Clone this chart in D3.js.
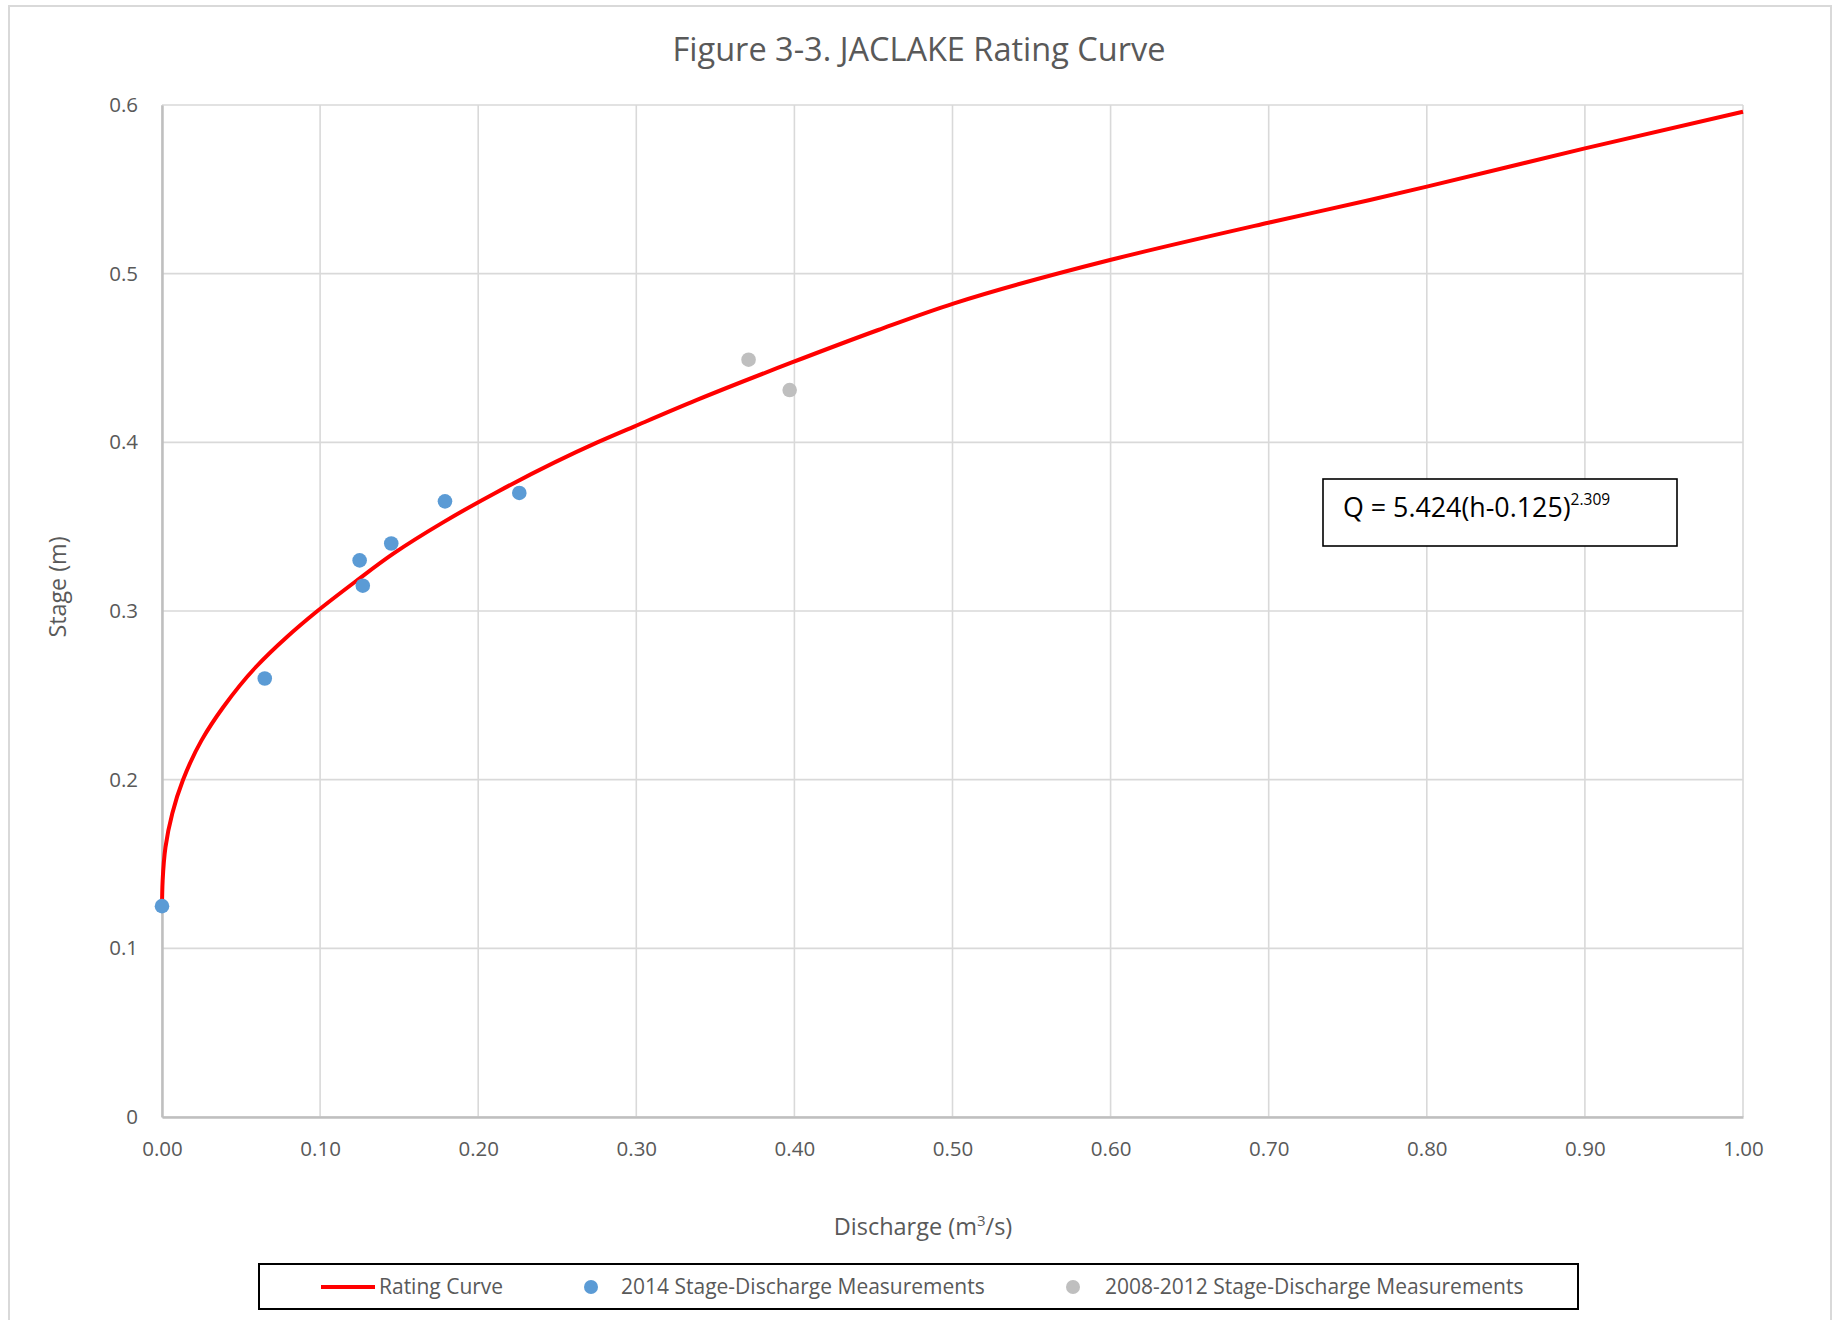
<!DOCTYPE html>
<html>
<head>
<meta charset="utf-8">
<script src="https://cdn.jsdelivr.net/npm/d3@7"></script>
<style>
  body { margin: 0; background: #fff; }
  text { font-family: "Open Sans", sans-serif; }
</style>
</head>
<body>
<div id="chart"></div>
<script>
const WIDTH = 1835;
const HEIGHT = 1320;
const MARGINS = { left: 162, right: 92, top: 105, bottom: 203 };
const VIS_WIDTH = WIDTH - MARGINS.left - MARGINS.right;
const VIS_HEIGHT = HEIGHT - MARGINS.top - MARGINS.bottom;

// rating curve (discharge m3/s, stage m)
const RATING_Q = [0, 0.0004, 0.0022, 0.0065, 0.0132, 0.025, 0.0388, 0.0594, 0.079, 0.0975,
  0.122, 0.1463, 0.1775, 0.212, 0.275, 0.299, 0.338, 0.398, 0.453, 0.501,
  0.5996, 0.6998, 0.764, 0.800, 0.900, 1.000];
const RATING_H = [0.125, 0.140, 0.160, 0.180, 0.1996, 0.2233, 0.2431, 0.2668, 0.2846, 0.2994,
  0.3172, 0.334, 0.3524, 0.3706, 0.3998, 0.4095, 0.425, 0.4472, 0.4666, 0.4824,
  0.5081, 0.5302, 0.5437, 0.5516, 0.5743, 0.596];

// 2014 measurements
const Q_2014 = [0, 0.065, 0.125, 0.127, 0.145, 0.179, 0.226];
const H_2014 = [0.125, 0.26, 0.33, 0.315, 0.34, 0.365, 0.37];

// 2008-2012 measurements
const Q_OLD = [0.371, 0.397];
const H_OLD = [0.449, 0.431];

const X_TICKS = [0, 0.1, 0.2, 0.3, 0.4, 0.5, 0.6, 0.7, 0.8, 0.9, 1.0];
const Y_TICKS = [0, 0.1, 0.2, 0.3, 0.4, 0.5, 0.6];

const LEGEND_LABELS = ["Rating Curve", "2014 Stage-Discharge Measurements", "2008-2012 Stage-Discharge Measurements"];

const TEXT_COLOR = "#595959";
const BLUE = "#5b9bd5";
const GRAY = "#bfbfbf";
const RED = "#ff0000";

const SVG = d3.select("#chart")
  .append("svg")
  .attr("width", WIDTH)
  .attr("height", HEIGHT);

// outer chart border
SVG.append("rect")
  .attr("x", 9)
  .attr("y", 6)
  .attr("width", 1822)
  .attr("height", HEIGHT)
  .attr("fill", "#fff")
  .attr("stroke", "#d9d9d9")
  .attr("stroke-width", 2);

const X_SCALE = d3.scaleLinear().domain([0, 1]).range([0, VIS_WIDTH]);
const Y_SCALE = d3.scaleLinear().domain([0, 0.6]).range([VIS_HEIGHT, 0]);

const PLOT = SVG.append("g")
  .attr("transform", `translate(${MARGINS.left},${MARGINS.top})`);

// gridlines
PLOT.selectAll(".vgrid")
  .data(X_TICKS)
  .enter()
  .append("line")
  .attr("x1", (d) => X_SCALE(d))
  .attr("x2", (d) => X_SCALE(d))
  .attr("y1", 0)
  .attr("y2", VIS_HEIGHT)
  .attr("stroke", "#d9d9d9")
  .attr("stroke-width", 1.6);

PLOT.selectAll(".hgrid")
  .data(Y_TICKS)
  .enter()
  .append("line")
  .attr("x1", 0)
  .attr("x2", VIS_WIDTH)
  .attr("y1", (d) => Y_SCALE(d))
  .attr("y2", (d) => Y_SCALE(d))
  .attr("stroke", "#d9d9d9")
  .attr("stroke-width", 1.6);

// axes
const xAxis = PLOT.append("g")
  .attr("transform", `translate(0,${VIS_HEIGHT})`)
  .call(d3.axisBottom(X_SCALE).tickValues(X_TICKS).tickFormat(d3.format(".2f")).tickSize(0).tickPadding(24));
xAxis.select(".domain").attr("stroke", "#bfbfbf").attr("stroke-width", 2.5);
xAxis.selectAll("text")
  .attr("fill", TEXT_COLOR)
  .style("font-size", "20.5px")
  .style("font-family", "'Open Sans', sans-serif");

const yAxis = PLOT.append("g")
  .call(d3.axisLeft(Y_SCALE).tickValues(Y_TICKS).tickFormat((d) => (d === 0 ? "0" : d.toFixed(1))).tickSize(0).tickPadding(24));
yAxis.select(".domain").attr("stroke", "#bfbfbf").attr("stroke-width", 2.5);
yAxis.selectAll("text")
  .attr("fill", TEXT_COLOR)
  .style("font-size", "20.5px")
  .style("font-family", "'Open Sans', sans-serif");

// rating curve (stage rises monotonically, so interpolate along y)
const ratingData = RATING_Q.map((q, i) => ({ q: q, h: RATING_H[i] }));
PLOT.append("path")
  .datum(ratingData)
  .attr("fill", "none")
  .attr("stroke", RED)
  .attr("stroke-width", 4)
  .attr("d", d3.line()
    .x((d) => X_SCALE(d.q))
    .y((d) => Y_SCALE(d.h))
    .curve(d3.curveMonotoneY));

// measurement points
const oldData = Q_OLD.map((q, i) => ({ q: q, h: H_OLD[i] }));
PLOT.selectAll(".old")
  .data(oldData)
  .enter()
  .append("circle")
  .attr("cx", (d) => X_SCALE(d.q))
  .attr("cy", (d) => Y_SCALE(d.h))
  .attr("r", 7.3)
  .attr("fill", GRAY);

const newData = Q_2014.map((q, i) => ({ q: q, h: H_2014[i] }));
PLOT.selectAll(".new")
  .data(newData)
  .enter()
  .append("circle")
  .attr("cx", (d) => X_SCALE(d.q))
  .attr("cy", (d) => Y_SCALE(d.h))
  .attr("r", 7.3)
  .attr("fill", BLUE);

// title
SVG.append("text")
  .attr("x", 919)
  .attr("y", 61)
  .attr("text-anchor", "middle")
  .attr("fill", TEXT_COLOR)
  .style("font-size", "32.5px")
  .text("Figure 3-3. JACLAKE Rating Curve");

// axis titles
const xTitle = SVG.append("text")
  .attr("x", 923)
  .attr("y", 1235)
  .attr("text-anchor", "middle")
  .attr("fill", TEXT_COLOR)
  .style("font-size", "23.5px");
xTitle.append("tspan").text("Discharge (m");
xTitle.append("tspan").attr("dy", -9).style("font-size", "15px").text("3");
xTitle.append("tspan").attr("dy", 9).text("/s)");

SVG.append("text")
  .attr("transform", "translate(66,587) rotate(-90)")
  .attr("text-anchor", "middle")
  .attr("fill", TEXT_COLOR)
  .style("font-size", "23.3px")
  .text("Stage (m)");

// equation box
SVG.append("rect")
  .attr("x", 1323)
  .attr("y", 479)
  .attr("width", 354)
  .attr("height", 67)
  .attr("fill", "#fff")
  .attr("stroke", "#000")
  .attr("stroke-width", 1.6);

const eq = SVG.append("text")
  .attr("x", 1343)
  .attr("y", 517)
  .attr("fill", "#000")
  .style("font-size", "26.8px");
eq.append("tspan").text("Q = 5.424(h-0.125)");
eq.append("tspan").attr("dy", -12).style("font-size", "15.5px").text("2.309");

// legend
SVG.append("rect")
  .attr("x", 259)
  .attr("y", 1264)
  .attr("width", 1319)
  .attr("height", 45)
  .attr("fill", "#fff")
  .attr("stroke", "#000")
  .attr("stroke-width", 2);

const LEGEND_Y = 1287;
SVG.append("line")
  .attr("x1", 321)
  .attr("x2", 375)
  .attr("y1", LEGEND_Y)
  .attr("y2", LEGEND_Y)
  .attr("stroke", RED)
  .attr("stroke-width", 4);

SVG.append("circle").attr("cx", 591).attr("cy", LEGEND_Y).attr("r", 7).attr("fill", BLUE);
SVG.append("circle").attr("cx", 1073).attr("cy", LEGEND_Y).attr("r", 7).attr("fill", GRAY);

const LEGEND_X = [379, 621, 1105];
SVG.selectAll(".legend-label")
  .data(LEGEND_LABELS)
  .enter()
  .append("text")
  .attr("x", (d, i) => LEGEND_X[i])
  .attr("y", LEGEND_Y)
  .attr("dy", "0.35em")
  .attr("fill", TEXT_COLOR)
  .style("font-size", "21px")
  .text((d) => d);
</script>
</body>
</html>
